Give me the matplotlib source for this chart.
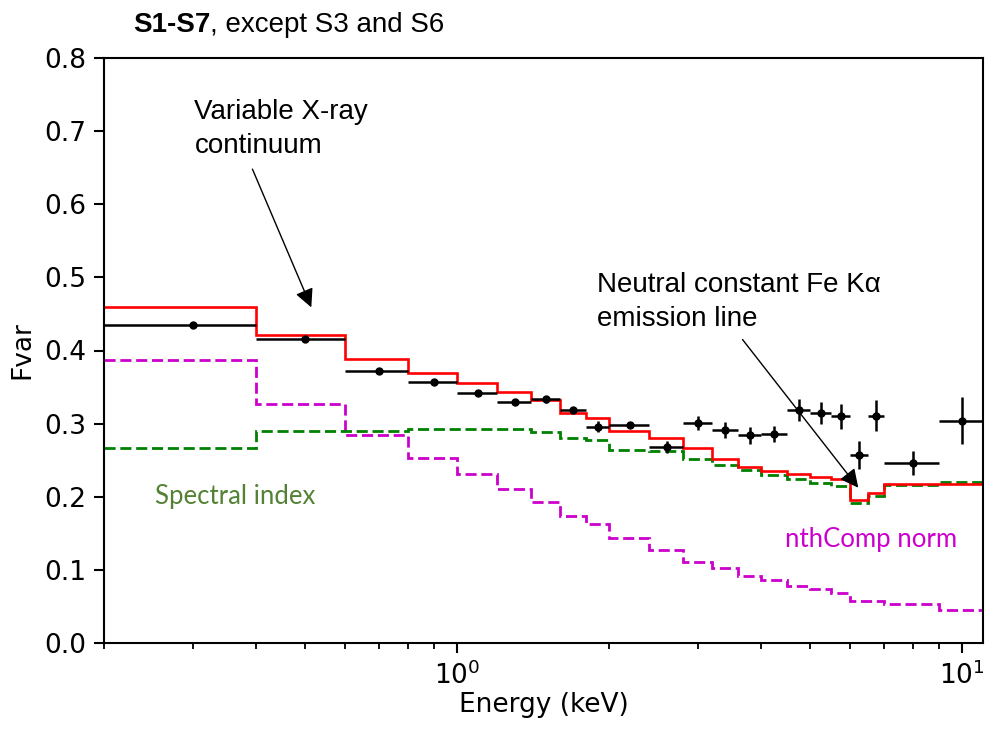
import matplotlib
matplotlib.use("Agg")
import matplotlib.pyplot as plt
import numpy as np

plt.rcParams['font.family'] = ['DejaVu Sans']
plt.rcParams['mathtext.fontset'] = 'dejavusans'

# Energy bin edges (keV)
edges = [0.2, 0.4, 0.6, 0.8, 1.0, 1.2, 1.4, 1.6, 1.8, 2.0, 2.4, 2.8,
         3.2, 3.6, 4.0, 4.5, 5.0, 5.5, 6.0, 6.5, 7.0, 9.0, 11.0]

# Observed fractional variability
fvar = [0.435, 0.416, 0.372, 0.357, 0.342, 0.330, 0.333, 0.318, 0.296, 0.298,
        0.268, 0.301, 0.291, 0.284, 0.286, 0.319, 0.315, 0.310, 0.257, 0.311,
        0.246, 0.304]
fvar_err = [0.003, 0.003, 0.003, 0.003, 0.003, 0.003, 0.005, 0.004, 0.008, 0.004,
            0.008, 0.010, 0.011, 0.012, 0.011, 0.015, 0.015, 0.017, 0.019, 0.021,
            0.016, 0.032]

# Model curves
model_total = [0.459, 0.421, 0.389, 0.369, 0.356, 0.343, 0.332, 0.314, 0.308, 0.290,
               0.281, 0.267, 0.252, 0.241, 0.235, 0.231, 0.227, 0.224, 0.196, 0.205,
               0.217, 0.217]
model_index = [0.267, 0.290, 0.290, 0.292, 0.293, 0.292, 0.289, 0.280, 0.278, 0.264,
               0.262, 0.251, 0.244, 0.237, 0.230, 0.224, 0.219, 0.215, 0.192, 0.201,
               0.216, 0.220]
model_norm = [0.387, 0.327, 0.284, 0.253, 0.231, 0.210, 0.193, 0.173, 0.163, 0.143,
              0.127, 0.111, 0.102, 0.092, 0.086, 0.078, 0.074, 0.069, 0.058, 0.057,
              0.054, 0.045]

yticks = [0.0, 0.1, 0.2, 0.3, 0.4, 0.5, 0.6, 0.7, 0.8]

fig = plt.figure(figsize=(9.89, 7.29), dpi=100)
ax = fig.add_axes([104/989, 1-643/729, (983-104)/989, (643-58)/729])

e = np.array(edges)
centers = (e[:-1] + e[1:]) / 2
xerr = np.vstack([centers - e[:-1], e[1:] - centers])

ax.stairs(model_norm, edges, baseline=None, color='#CC00CC', lw=2.0,
          linestyle=(0, (4, 1.7)))
ax.stairs(model_index, edges, baseline=None, color='#008000', lw=2.0,
          linestyle=(0, (4, 1.7)))
ax.stairs(model_total, edges, baseline=None, color='red', lw=1.9)
ax.errorbar(centers, fvar, xerr=xerr, yerr=fvar_err, fmt='o', color='black',
            ms=5, elinewidth=1.8, capsize=0)

ax.set_xscale('log')
ax.set_xlim(0.2, 11)
ax.set_ylim(0, 0.8)
ax.set_yticks(yticks)
ax.set_yticklabels([f"{v:.1f}" for v in yticks])

for s in ax.spines.values():
    s.set_linewidth(1.5)
ax.tick_params(axis='both', which='major', labelsize=19, width=1.5, length=7, pad=6)
ax.tick_params(axis='x', which='minor', width=1.3, length=4)
ax.set_xlabel('Energy (keV)', fontsize=19, labelpad=2)
ax.set_ylabel('Fvar', fontsize=19, labelpad=6)

arial = 'Liberation Sans'
arrow = dict(arrowstyle='-|>', color='black', lw=1, mutation_scale=28,
             shrinkA=0, shrinkB=0)
ax.text(0.302, 0.703, 'Variable X-ray\ncontinuum', ha='left', va='center',
        fontsize=20, family=arial, linespacing=1.4)
ax.annotate('', xy=(0.5146, 0.459), xytext=(0.3935, 0.648), arrowprops=arrow)
ax.text(1.891, 0.466, 'Neutral constant Fe Kα\nemission line', ha='left',
        va='center', fontsize=20, family=arial, linespacing=1.4)
ax.annotate('', xy=(6.23, 0.2123), xytext=(3.675, 0.415), arrowprops=arrow)
ax.text(0.2518, 0.200, 'Spectral index', color='#548235', fontsize=18.5,
        family='Lato', ha='left', va='center')
ax.text(4.47, 0.141, 'nthComp norm', color='#CC00CC', fontsize=18.5,
        family='Lato', ha='left', va='center')

t1 = fig.text(133/989, 1-25/729, 'S1-S7', fontsize=20, family=arial,
              fontweight='bold', ha='left', va='center')
fig.canvas.draw()
ax.annotate(', except S3 and S6', xy=(1, 0), xycoords=t1, ha='left', va='bottom',
            fontsize=20, family=arial)

fig.savefig('out.png', dpi=100)
